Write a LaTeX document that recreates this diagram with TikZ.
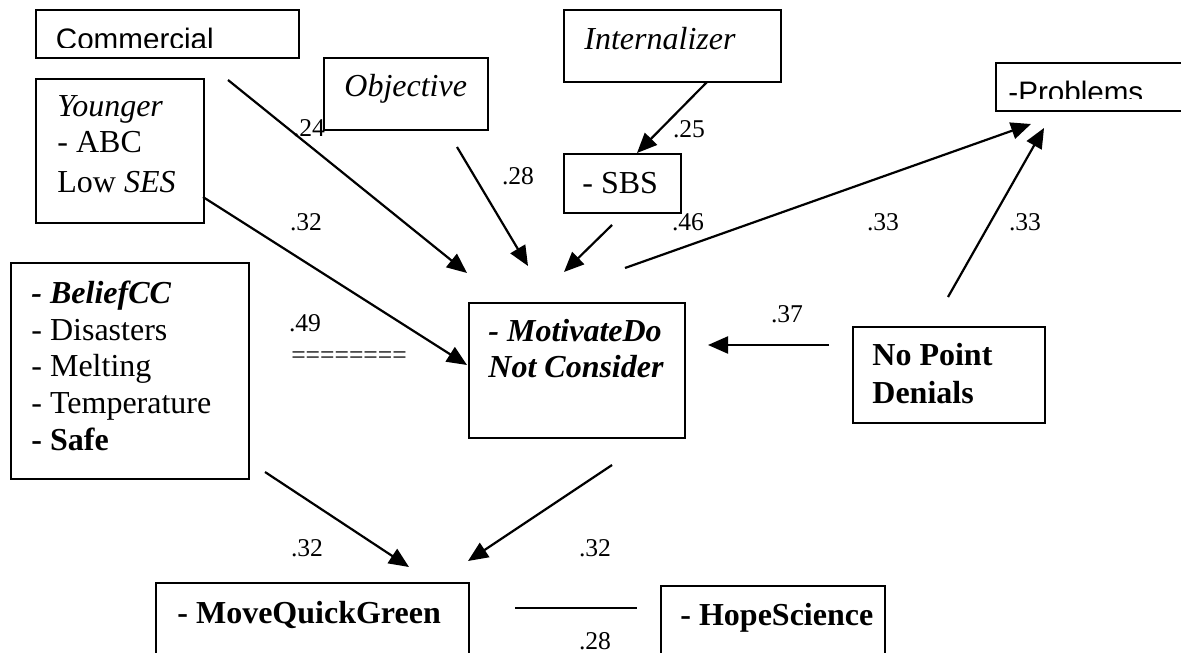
\documentclass[tikz,border=0pt]{standalone}
\usepackage{fontspec}
\setmainfont{Liberation Serif}
\newfontfamily\arialfont{Liberation Sans}
\usetikzlibrary{arrows.meta}
\tikzset{
  box/.style={draw, line width=0.95pt, inner sep=0pt, anchor=north west},
  txt/.style={anchor=base west, inner sep=0pt, font=\fontsize{16pt}{18.5pt}\selectfont},
  sanstxt/.style={anchor=base west, inner sep=0pt, font=\arialfont\fontsize{14.8pt}{17pt}\selectfont},
  lbl/.style={inner sep=0pt, font=\fontsize{12.8pt}{15pt}\selectfont},
  arr/.style={line width=1.1pt, -{Triangle[length=10pt,width=8.5pt]}},
  plainline/.style={line width=1.1pt},
}
\begin{document}
\begin{tikzpicture}[x=0.5pt,y=-0.5pt]
\useasboundingbox (0,0) rectangle (1181,652);
\clip (0,0) rectangle (1181,652);

% boxes
\node[box, minimum width=131.5pt, minimum height=24pt] (commercial) at (35,9) {};
\node[box, minimum width=84pt, minimum height=72pt] (younger) at (35,78) {};
\node[box, minimum width=82pt, minimum height=36pt] (objective) at (323,57) {};
\node[box, minimum width=108.5pt, minimum height=36pt] (internalizer) at (563,9) {};
\node[box, minimum width=58.5pt, minimum height=29.5pt] (sbs) at (563,153) {};
\node[box, minimum width=110pt, minimum height=24pt] (problems) at (995,62) {};
\node[box, minimum width=108pt, minimum height=67.5pt] (motivate) at (468,302) {};
\node[box, minimum width=96pt, minimum height=48pt] (nopoint) at (852,326) {};
\node[box, minimum width=119pt, minimum height=108pt] (belief) at (10,262) {};
\node[box, minimum width=156.5pt, minimum height=59pt] (mqg) at (155,582) {};
\node[box, minimum width=112pt, minimum height=57.5pt] (hope) at (660,585) {};

% texts
\begin{scope}
\clip (35,9) rectangle (300,47.5);
\node[sanstxt] (commercialtext) at (55.5,49.5) {Commercial};
\end{scope}
\begin{scope}
\clip (995,62) rectangle (1181,98.5);
\node[sanstxt] (problemstext) at (1008,103) {-Problems};
\end{scope}

\node[txt] (younger1) at (57,117) {\itshape Younger};
\node[txt] (younger2) at (57,153) {- ABC};
\node[txt] (younger3) at (57,192) {Low \textit{SES}};
\node[txt] (objectivetext) at (344,97) {\itshape Objective};
\node[txt] (internalizertext) at (584,50) {\itshape Internalizer};
\node[txt] (sbstext) at (582,193) {- SBS};
\node[txt] (belief1) at (31,303) {\bfseries\itshape - BeliefCC};
\node[txt] (belief2) at (31,340) {- Disasters};
\node[txt] (belief3) at (31,376) {- Melting};
\node[txt] (belief4) at (31,413) {- Temperature};
\node[txt] (belief5) at (31,450) {\bfseries - Safe};
\node[txt] (motivate1) at (488,341) {\bfseries\itshape - MotivateDo};
\node[txt] (motivate2) at (488,377) {\bfseries\itshape Not Consider};
\node[txt] (nopoint1) at (872,365) {\bfseries No Point};
\node[txt] (nopoint2) at (872,403) {\bfseries Denials};
\node[txt] (mqgtext) at (177,623) {\bfseries - MoveQuickGreen};
\node[txt] (hopetext) at (680,625) {\bfseries - HopeScience};

% labels
\node[lbl] (l24) at (309,128) {.24};
\node[lbl] (l28a) at (518,176) {.28};
\node[lbl] (l25) at (689,129) {.25};
\node[lbl] (l32a) at (306,222) {.32};
\node[lbl] (l46) at (688,222) {.46};
\node[lbl] (l33a) at (883,222) {.33};
\node[lbl] (l33b) at (1025,222) {.33};
\node[lbl] (l49) at (305,323) {.49};
\node[lbl] (leq) at (349,358) {========};
\node[lbl] (l37) at (787,314) {.37};
\node[lbl] (l32b) at (307,548) {.32};
\node[lbl] (l32c) at (595,548) {.32};
\node[lbl] (l28b) at (595,641) {.28};

% connector end points
\coordinate (a1s) at (228,80);  \coordinate (a1e) at (467,273);
\coordinate (a2s) at (457,147); \coordinate (a2e) at (528,266);
\coordinate (a3s) at (707,82);  \coordinate (a3e) at (637,153);
\coordinate (a4s) at (612,225); \coordinate (a4e) at (564,272);
\coordinate (a5s) at (203,197); \coordinate (a5e) at (467,365);
\coordinate (a6s) at (625,268); \coordinate (a6e) at (1031,124);
\coordinate (a7s) at (948,297); \coordinate (a7e) at (1044,128);
\coordinate (a8s) at (829,345); \coordinate (a8e) at (708,345);
\coordinate (a9s) at (265,472); \coordinate (a9e) at (409,567);
\coordinate (a10s) at (612,465); \coordinate (a10e) at (468,561);
\coordinate (a11s) at (515,608); \coordinate (a11e) at (637,608);

\draw[arr] (a1s) -- (a1e);
\draw[arr] (a2s) -- (a2e);
\draw[arr] (a3s) -- (a3e);
\draw[arr] (a4s) -- (a4e);
\draw[arr] (a5s) -- (a5e);
\draw[arr] (a6s) -- (a6e);
\draw[arr] (a7s) -- (a7e);
\draw[arr] (a8s) -- (a8e);
\draw[arr] (a9s) -- (a9e);
\draw[arr] (a10s) -- (a10e);
\draw[plainline] (a11s) -- (a11e);
\end{tikzpicture}
\end{document}
